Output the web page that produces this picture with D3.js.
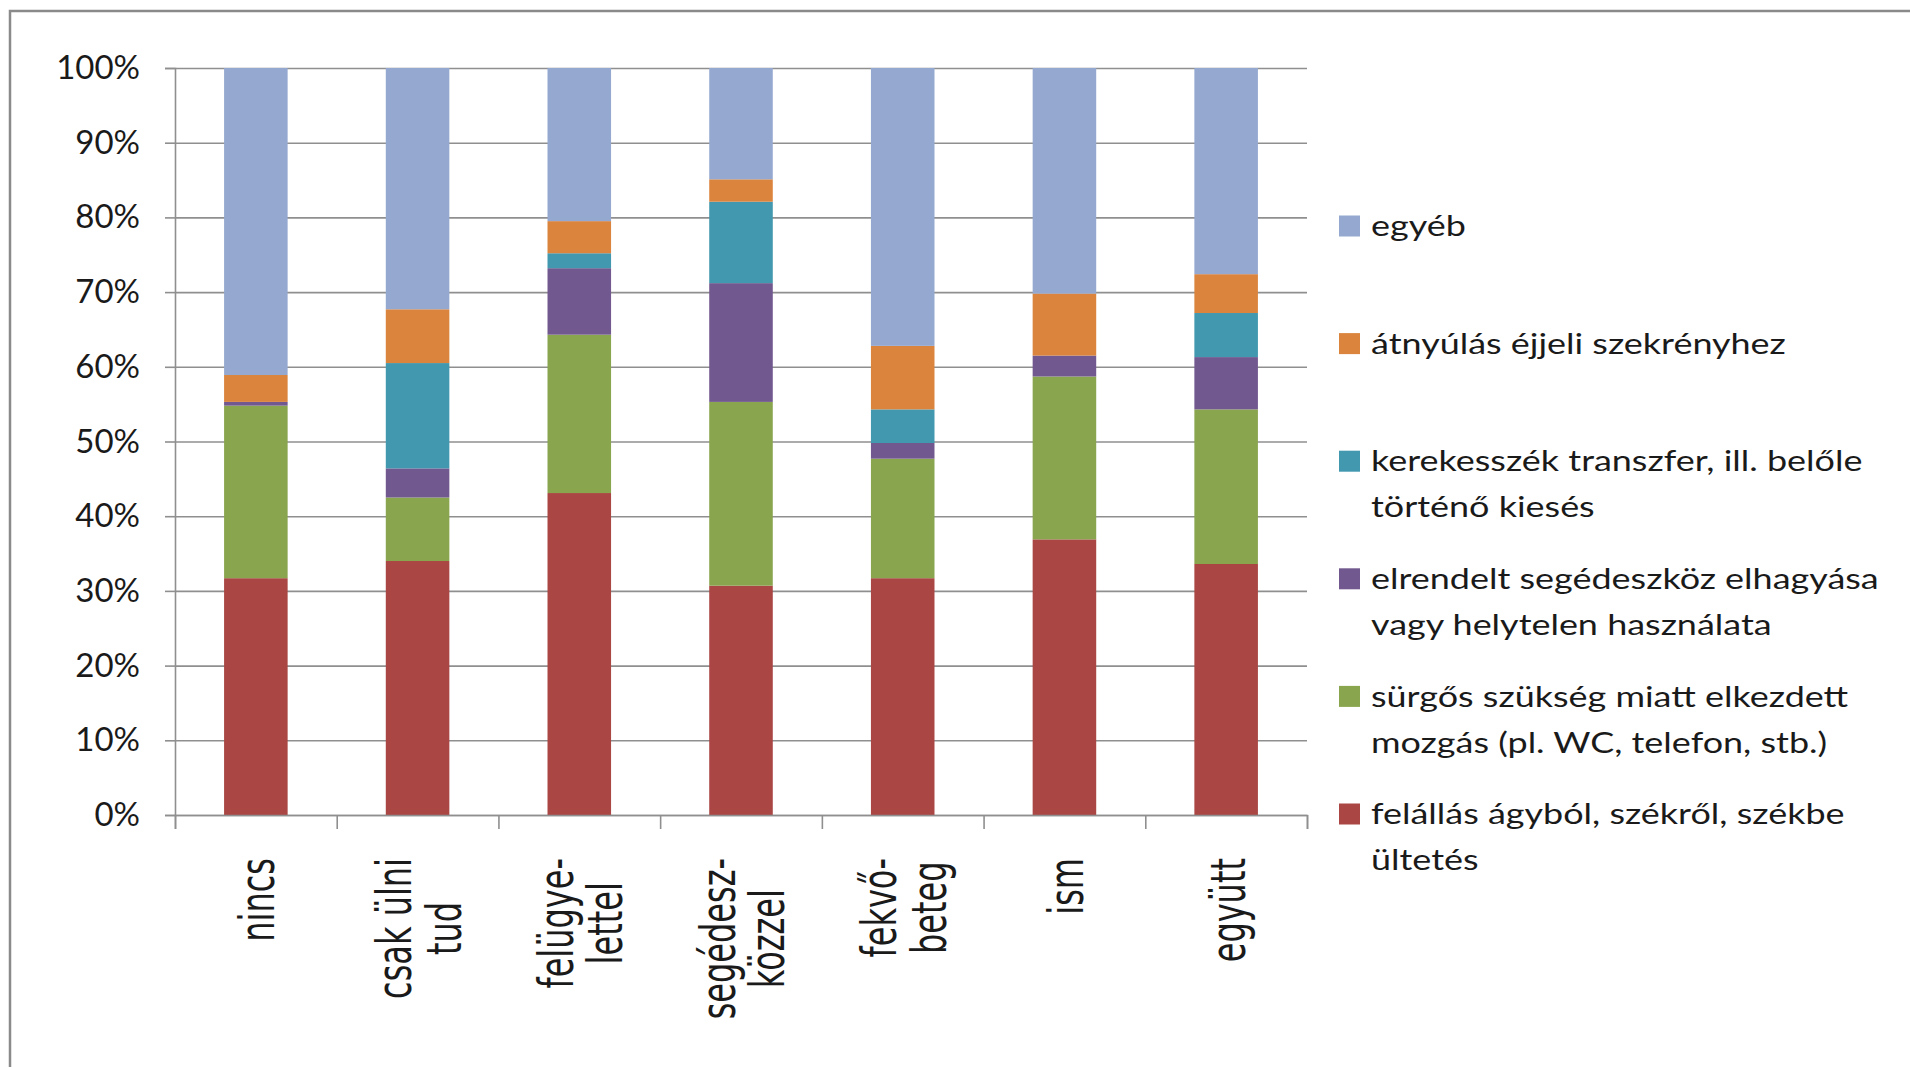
<!DOCTYPE html>
<html>
<head>
<meta charset="utf-8">
<script src="https://cdn.jsdelivr.net/npm/d3@7"></script>
<style>
  body { margin: 0; background: #fff; }
  svg { display: block; }
</style>
</head>
<body>
<div id="container"></div>
<script>
const width = 1910;
const height = 1067;

// plot area
const plot = { left: 175, right: 1307, top: 68, bottom: 815 };

// categories (line breaks as in the chart)
const categories = [
  "nincs",
  "csak ülni\ntud",
  "felügye-\nlettel",
  "segédesz-\nközzel",
  "fekvő-\nbeteg",
  "ism",
  "együtt",
];

// series, bottom to top (percent of each column)
const felallas = [31.7, 34.0, 43.1, 30.7, 31.7, 36.9, 33.6];
const surgos = [23.1, 8.5, 21.2, 24.6, 16.0, 21.8, 20.7];
const elrendelt = [0.5, 3.9, 8.9, 15.9, 2.1, 2.8, 7.0];
const kerekesszek = [0, 14.1, 2.0, 10.9, 4.5, 0, 5.9];
const atnyulas = [3.6, 7.2, 4.3, 3.0, 8.5, 8.3, 5.2];
const egyeb = [41.1, 32.3, 20.5, 14.9, 37.2, 30.2, 27.6];

const seriesNames = [
  "felállás ágyból, székről, székbe\nültetés",
  "sürgős szükség miatt elkezdett\nmozgás (pl. WC, telefon, stb.)",
  "elrendelt segédeszköz elhagyása\nvagy helytelen használata",
  "kerekesszék transzfer,  ill. belőle\ntörténő kiesés",
  "átnyúlás éjjeli szekrényhez",
  "egyéb",
];
const seriesValues = [felallas, surgos, elrendelt, kerekesszek, atnyulas, egyeb];
const colours = ["#AA4643", "#89A54E", "#71588F", "#4198AF", "#DB843D", "#95A9D0"];

const yTicks = [0, 0.1, 0.2, 0.3, 0.4, 0.5, 0.6, 0.7, 0.8, 0.9, 1];

// build rows for d3.stack
const keys = seriesNames.map((_, i) => "s" + i);
const rows = categories.map((c, j) => {
  const row = { cat: c };
  seriesValues.forEach((vals, i) => (row[keys[i]] = vals[j]));
  return row;
});
const stacked = d3.stack().keys(keys).offset(d3.stackOffsetExpand)(rows);

const svg = d3
  .select("#container")
  .append("svg")
  .attr("width", width)
  .attr("height", height);

// outer chart border (runs off the right and bottom edge)
svg
  .append("rect")
  .attr("x", 10)
  .attr("y", 11)
  .attr("width", width + 20)
  .attr("height", height + 20)
  .attr("fill", "none")
  .attr("stroke", "#8a8a8a")
  .attr("stroke-width", 2.5);

const xScale = d3
  .scaleBand()
  .domain(categories)
  .range([plot.left, plot.right])
  .paddingInner(0.607)
  .paddingOuter(0.3035);

const yScale = d3.scaleLinear().domain([0, 1]).range([plot.bottom, plot.top]);

// gridlines
svg
  .append("g")
  .attr("transform", `translate(${plot.left},0)`)
  .call(
    d3.axisLeft(yScale).tickValues(yTicks).tickSize(-(plot.right - plot.left)).tickFormat("")
  )
  .call((g) => g.select(".domain").remove())
  .call((g) => g.selectAll("line").attr("stroke", "#8f8f8f").attr("stroke-width", 1.6));

// y axis with labels
svg
  .append("g")
  .attr("transform", `translate(${plot.left},0)`)
  .call(
    d3
      .axisLeft(yScale)
      .tickValues(yTicks)
      .tickSize(10)
      .tickPadding(25)
      .tickFormat(d3.format(".0%"))
  )
  .call((g) => g.selectAll("line, .domain").attr("stroke", "#8f8f8f").attr("stroke-width", 1.6))
  .call((g) =>
    g
      .selectAll("text")
      .attr("fill", "#1a1a1a")
      .style("font-family", "Lato, 'Open Sans', sans-serif")
      .style("font-size", "33px")
  );

// bars
svg
  .append("g")
  .selectAll("g")
  .data(stacked)
  .enter()
  .append("g")
  .attr("fill", (d, i) => colours[i])
  .selectAll("rect")
  .data((d) => d)
  .enter()
  .append("rect")
  .attr("x", (d) => xScale(d.data.cat))
  .attr("width", xScale.bandwidth())
  .attr("y", (d) => yScale(d[1]))
  .attr("height", (d) => yScale(d[0]) - yScale(d[1]));

// x axis: ticks sit on the category boundaries
const xEdge = d3
  .scaleLinear()
  .domain([0, categories.length])
  .range([plot.left, plot.right]);

svg
  .append("g")
  .attr("transform", `translate(0,${plot.bottom})`)
  .call(
    d3.axisBottom(xEdge).tickValues(d3.range(categories.length + 1)).tickSize(14).tickFormat("")
  )
  .call((g) => g.selectAll("line, .domain").attr("stroke", "#8f8f8f").attr("stroke-width", 1.6));

// rotated category labels
const fs = 32;
const lineH = 33;
const labelTop = 858;
const labels = svg
  .append("g")
  .style("font-family", "'DejaVu Sans', sans-serif")
  .style("font-size", fs + "px")
  .attr("fill", "#1a1a1a")
  .selectAll("text")
  .data(categories)
  .enter()
  .append("text")
  .attr("text-anchor", "middle");

labels.each(function (c) {
  const lines = c.split("\n");
  const t = d3.select(this);
  lines.forEach((line, i) => {
    t.append("tspan")
      .attr("x", 0)
      .attr("y", (i - (lines.length - 1) / 2) * lineH + 0.28 * fs)
      .text(line);
  });
  const len = d3.max(t.selectAll("tspan").nodes(), (n) => n.getComputedTextLength());
  const cx = xScale(c) + xScale.bandwidth() / 2 + 5;
  t.attr("transform", `translate(${cx},${labelTop + len / 2}) scale(1.5,1) rotate(-90)`);
});

// legend (text is stretched sideways like the original)
const legendX = 1371;
const legend = svg
  .append("g")
  .style("font-family", "Lato, 'Open Sans', sans-serif")
  .style("font-size", "29px")
  .attr("fill", "#1a1a1a");

const legendOrder = d3.range(seriesNames.length).reverse();
const legendY = d3.scaleLinear().domain([0, 5]).range([226, 814]);

legendOrder.forEach((si, k) => {
  const y0 = legendY(k);
  legend
    .append("rect")
    .attr("x", 1339)
    .attr("y", y0 - 10.5)
    .attr("width", 21)
    .attr("height", 21)
    .attr("fill", colours[si]);
  const text = legend
    .append("text")
    .attr("transform", `translate(${legendX},${y0}) scale(1.24,1)`);
  seriesNames[si].split("\n").forEach((line, i) => {
    text
      .append("tspan")
      .attr("x", 0)
      .attr("y", i * 46)
      .attr("dy", "0.35em")
      .text(line);
  });
});
</script>
</body>
</html>
